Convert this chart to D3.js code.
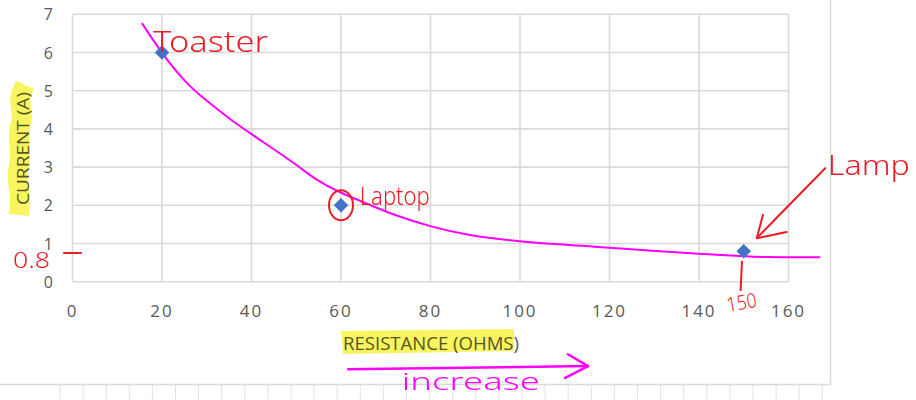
<!DOCTYPE html>
<html>
<head>
<meta charset="utf-8">
<script src="https://cdn.jsdelivr.net/npm/d3@7"></script>
<style>
  body { margin: 0; background: #fff; }
  svg { display: block; }
  .tick-label { font-family: "Open Sans", sans-serif; fill: #595959; }
  .hand { font-family: "Noto Sans", sans-serif; font-weight: 300; }
</style>
</head>
<body>
<div id="chart"></div>
<script>
// measured points (resistance in ohms, current in amps)
const devices = ['Toaster', 'Laptop', 'Lamp'];
const resistance = [20, 60, 150];
const current = [6, 2, 0.8];

const xTicks = [0, 20, 40, 60, 80, 100, 120, 140, 160];
const yTicks = [0, 1, 2, 3, 4, 5, 6, 7];

// hand drawn trend curve
const curveX = [15.5, 19.9, 25.1, 30.1, 35.9, 41.2, 45.7, 50.8, 53.7, 59.8, 65.8, 71.6, 80.6, 88.2, 99.3, 117.9, 129.0, 140.2, 149.8, 155.2, 162.6, 167.1];
const curveY = [6.77, 5.99, 5.22, 4.72, 4.19, 3.77, 3.41, 3.0, 2.72, 2.32, 2.05, 1.75, 1.42, 1.22, 1.05, 0.91, 0.81, 0.73, 0.67, 0.64, 0.64, 0.64];

var w = 916;
var h = 400;
var margin = { top: 14.3, left: 72.5, right: 127.5, bottom: 118.3 };

var x = d3.scaleLinear().domain([0, 160]).range([margin.left, w - margin.right]);
var y = d3.scaleLinear().domain([0, 7]).range([h - margin.bottom, margin.top]);

var svg = d3.select('#chart').append('svg')
  .attr('width', w)
  .attr('height', h);

// spreadsheet cells peeking under the chart
var sheet = svg.append('g').attr('stroke', '#e3e3e3').attr('stroke-width', 1);
sheet.selectAll('line')
  .data(d3.range(60, 830, 23.1))
  .enter().append('line')
  .attr('x1', d => d).attr('x2', d => d)
  .attr('y1', 385).attr('y2', 400);

// chart frame (right and bottom edges visible)
svg.append('path')
  .attr('d', 'M0,384.5H830.5V0')
  .attr('fill', 'none')
  .attr('stroke', '#d9d9d9')
  .attr('stroke-width', 1.5);

// gridlines
var grid = svg.append('g').attr('stroke', '#d9d9d9').attr('stroke-width', 1.6);
grid.selectAll('.vgrid')
  .data(xTicks)
  .enter().append('line')
  .attr('class', 'vgrid')
  .attr('x1', d => x(d)).attr('x2', d => x(d))
  .attr('y1', y(0)).attr('y2', y(7));
grid.selectAll('.hgrid')
  .data(yTicks)
  .enter().append('line')
  .attr('class', 'hgrid')
  .attr('x1', x(0)).attr('x2', x(160))
  .attr('y1', d => y(d)).attr('y2', d => y(d));

// tick labels
svg.append('g').selectAll('text')
  .data(xTicks)
  .enter().append('text')
  .attr('class', 'tick-label')
  .attr('x', d => x(d))
  .attr('y', 317)
  .attr('text-anchor', 'middle')
  .style('font-size', '17px')
  .style('letter-spacing', '2px')
  .text(d => d);

svg.append('g').selectAll('text')
  .data(yTicks)
  .enter().append('text')
  .attr('class', 'tick-label')
  .attr('x', 53)
  .attr('y', d => y(d) + 6)
  .attr('text-anchor', 'end')
  .style('font-size', '16px')
  .text(d => d);

// axis titles
svg.append('text')
  .attr('class', 'tick-label')
  .attr('x', 343)
  .attr('y', 350)
  .attr('textLength', 176)
  .attr('lengthAdjust', 'spacingAndGlyphs')
  .style('font-size', '18px')
  .text('RESISTANCE (OHMS)');

svg.append('text')
  .attr('class', 'tick-label')
  .attr('transform', 'translate(29,205) rotate(-90)')
  .attr('textLength', 113)
  .attr('lengthAdjust', 'spacingAndGlyphs')
  .style('font-size', '17px')
  .text('CURRENT (A)');

// highlighter strokes
var hl = svg.append('g').style('mix-blend-mode', 'multiply');
hl.append('path')
  .attr('d', 'M341,331 L514,329 L514,351 L343,354 Z')
  .attr('fill', '#f6f33a')
  .attr('opacity', 0.8);
hl.append('path')
  .attr('d', d3.line().curve(d3.curveBasis)([[25, 85], [18, 100], [24, 115], [17, 135], [22, 155], [16, 175], [21, 195], [19, 215]]))
  .attr('fill', 'none')
  .attr('stroke', '#f6f33a')
  .attr('stroke-width', 20)
  .attr('opacity', 0.8);

// trend curve
var curvePts = curveX.map((d, i) => [x(d), y(curveY[i])]);
svg.append('path')
  .attr('d', d3.line().curve(d3.curveBasis)(curvePts))
  .attr('fill', 'none')
  .attr('stroke', '#ff00ff')
  .attr('stroke-width', 2);

// data points
svg.append('g').selectAll('path')
  .data(resistance)
  .enter().append('path')
  .attr('d', d3.symbol().type(d3.symbolSquare).size(105))
  .attr('transform', (d, i) => 'translate(' + x(d) + ',' + y(current[i]) + ') rotate(45)')
  .attr('fill', '#4472c4');

// handwritten notes
var red = '#ec1c24';
var notes = [
  { text: devices[0], x: 18.0, y: 6.01, size: 30, len: 115 },
  { text: devices[1], x: 64.2, y: 2.0, size: 25, len: 70 },
  { text: devices[2], x: 168.8, y: 2.79, size: 28, len: 82 },
  { text: '0.8', x: -13.3, y: 0.36, size: 22, len: 37 }
];
svg.append('g').selectAll('text')
  .data(notes)
  .enter().append('text')
  .attr('class', 'hand')
  .attr('x', d => x(d.x))
  .attr('y', d => y(d.y))
  .attr('textLength', d => d.len)
  .attr('lengthAdjust', 'spacingAndGlyphs')
  .style('font-size', d => d.size + 'px')
  .attr('fill', red)
  .text(d => d.text);

svg.append('text')
  .attr('class', 'hand')
  .attr('transform', 'translate(' + x(146.5) + ',' + y(-0.79) + ') rotate(-10)')
  .attr('textLength', 30)
  .attr('lengthAdjust', 'spacingAndGlyphs')
  .style('font-size', '20px')
  .attr('fill', red)
  .text(resistance[2]);

var pen = d3.line();
var redStrokes = [
  [[-1.9, 0.75], [1.9, 0.75]],
  [[149.6, 0.52], [149.3, -0.22]],
  [[168.2, 2.97], [152.9, 1.14]],
  [[154.3, 1.75], [152.9, 1.14], [159.6, 1.30]]
];
svg.append('g').selectAll('path')
  .data(redStrokes)
  .enter().append('path')
  .attr('d', d => pen(d.map(p => [x(p[0]), y(p[1])])))
  .attr('fill', 'none')
  .attr('stroke', red)
  .attr('stroke-width', 2)
  .attr('stroke-linecap', 'round')
  .attr('stroke-linejoin', 'round');

svg.append('ellipse')
  .attr('cx', x(resistance[1]))
  .attr('cy', y(current[1]))
  .attr('rx', 12)
  .attr('ry', 15)
  .attr('fill', 'none')
  .attr('stroke', red)
  .attr('stroke-width', 2);

// "increase" arrow under the x axis
var magentaStrokes = [
  [[61.6, -2.29], [115.2, -2.21]],
  [[110.7, -1.90], [115.2, -2.21], [110.1, -2.52]]
];
svg.append('g').selectAll('path')
  .data(magentaStrokes)
  .enter().append('path')
  .attr('d', d => pen(d.map(p => [x(p[0]), y(p[1])])))
  .attr('fill', 'none')
  .attr('stroke', '#ff00ff')
  .attr('stroke-width', 2.5)
  .attr('stroke-linecap', 'round')
  .attr('stroke-linejoin', 'round');

svg.append('text')
  .attr('class', 'hand')
  .attr('x', x(73.6))
  .attr('y', y(-2.83))
  .attr('textLength', 138)
  .attr('lengthAdjust', 'spacingAndGlyphs')
  .style('font-size', '24px')
  .attr('fill', '#ff00ff')
  .text('increase');
</script>
</body>
</html>
